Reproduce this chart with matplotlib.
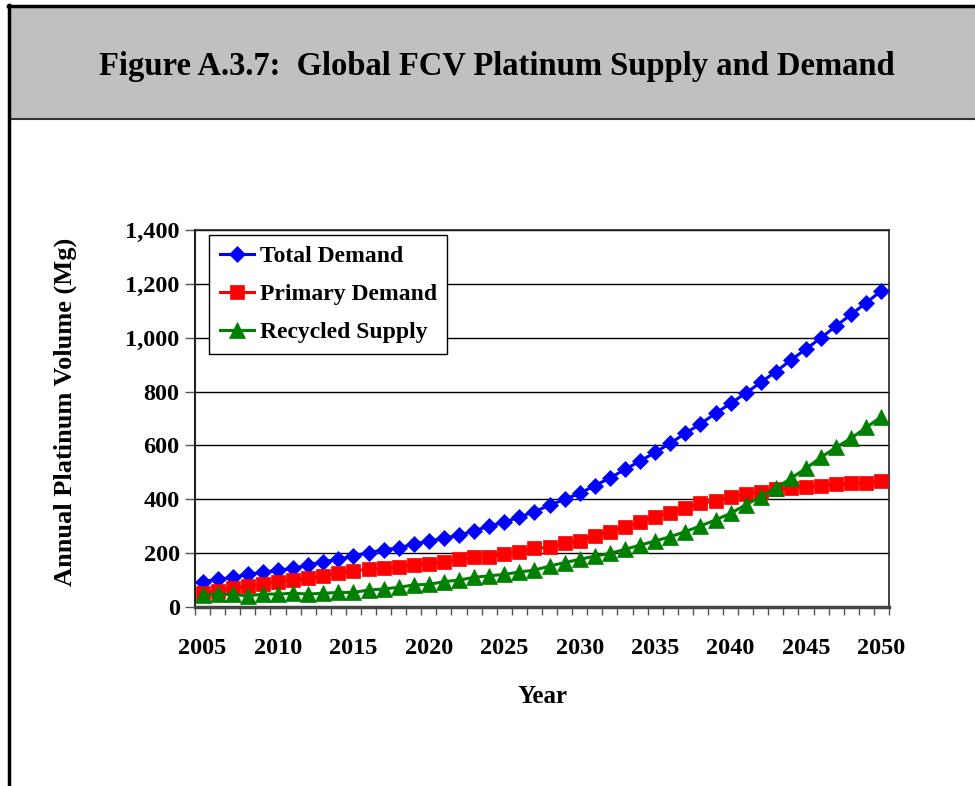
import numpy as np
import matplotlib
matplotlib.use('Agg')
import matplotlib.pyplot as plt
from matplotlib.patches import Rectangle
from matplotlib.lines import Line2D
from matplotlib.ticker import FuncFormatter, FixedLocator

plt.rcParams['font.family'] = ['Liberation Serif', 'DejaVu Serif']
plt.rcParams['font.weight'] = 'bold'

years = list(range(2005, 2051))
total_demand = [94, 103, 110, 121, 129, 137, 143, 156, 168, 177, 189, 202, 212, 220, 233, 246,
                255, 267, 282, 301, 315, 334, 354, 378, 400, 422, 451, 479, 511, 542, 574, 608,
                645, 680, 719, 756, 794, 834, 874, 917, 958, 1000, 1044, 1087, 1130, 1175]
primary_demand = [51, 59, 69, 78, 85, 94, 100, 106, 115, 125, 135, 140, 143, 150, 156, 160,
                  168, 177, 184, 187, 197, 206, 218, 222, 237, 246, 265, 280, 298, 317, 335, 350,
                  369, 385, 394, 410, 420, 428, 437, 441, 447, 451, 456, 459, 462, 468]
recycled_supply = [45, 48, 47, 41, 48, 48, 51, 48, 51, 54, 54, 63, 67, 73, 82, 84,
                   94, 100, 110, 116, 121, 130, 137, 152, 165, 177, 189, 199, 214, 230, 245, 261,
                   280, 301, 323, 348, 379, 410, 441, 478, 515, 556, 593, 627, 667, 707]
series_names = ['Total Demand', 'Primary Demand', 'Recycled Supply']

W, H = 975, 786
fig = plt.figure(figsize=(W / 100, H / 100), dpi=100)

# header box and outer frame
fig.add_artist(Rectangle((10 / W, 1 - 119 / H), (W - 10) / W, 113 / H, transform=fig.transFigure,
                         facecolor='#c0c0c0', edgecolor='none'))
fig.add_artist(Line2D([10 / W, 1], [1 - 119 / H] * 2, transform=fig.transFigure, color='#333333', lw=1.5))
fig.add_artist(Line2D([8 / W, 1], [1 - 6 / H] * 2, transform=fig.transFigure, color='black', lw=2.5))
fig.add_artist(Line2D([8.5 / W] * 2, [0, 1 - 5 / H], transform=fig.transFigure, color='black', lw=2.5))
fig.text(497 / W, 1 - 66 / H, 'Figure A.3.7:  Global FCV Platinum Supply and Demand',
         ha='center', va='center', fontsize=23.5, fontweight='bold')

ax = fig.add_axes([195 / W, 1 - 607 / H, 694 / W, 377 / H])
x = np.arange(len(years))

ax.plot(x, total_demand, color='#0000ff', lw=2.2, marker='D', markersize=8.5,
        markeredgewidth=0.5, label=series_names[0], zorder=3)
ax.plot(x, primary_demand, color='#ff0000', lw=2.2, marker='s', markersize=9.5,
        markeredgewidth=0.5, label=series_names[1], zorder=3)
ax.plot(x, recycled_supply, color='#008000', lw=2.2, marker='^', markersize=11,
        markeredgewidth=0.5, label=series_names[2], zorder=3)

ax.set_xlim(-0.5, len(years) - 0.5)
ax.set_ylim(0, 1400)
ax.set_yticks(range(0, 1401, 200))
ax.yaxis.set_major_formatter(FuncFormatter(lambda v, p: f'{int(v):,}'))
ax.grid(axis='y', color='black', lw=1)
ax.set_axisbelow(True)

ax.xaxis.set_major_locator(FixedLocator(x[::5]))
ax.set_xticklabels([str(y) for y in years[::5]])
ax.xaxis.set_minor_locator(FixedLocator(np.arange(-0.5, len(years), 1.0)))
ax.tick_params(axis='x', which='major', length=0, pad=22, labelsize=17.5)
ax.tick_params(axis='x', which='minor', length=6, width=1, color='#555555', direction='out')
ax.tick_params(axis='y', length=7, width=1, color='#555555', labelsize=17.5, pad=4)
for lab in ax.get_xticklabels() + ax.get_yticklabels():
    lab.set_fontweight('bold')

for side in ['top', 'right']:
    ax.spines[side].set_color('#222222')
    ax.spines[side].set_linewidth(1.2)
ax.spines['left'].set_color('#222222')
ax.spines['left'].set_linewidth(1.5)
ax.spines['bottom'].set_color('#444444')
ax.spines['bottom'].set_linewidth(2.5)

ax.set_xlabel('Year', fontsize=18, fontweight='bold', labelpad=19)
fig.text(65 / W, 1 - 412 / H, 'Annual Platinum Volume (Mg)', rotation=90,
         ha='center', va='center', fontsize=19, fontweight='bold')

leg = ax.legend(loc='upper left', bbox_to_anchor=(0.02, 0.987), borderaxespad=0,
                fancybox=False, framealpha=1, edgecolor='black', fontsize=17,
                handlelength=1.45, handletextpad=0.25, labelspacing=0.7, borderpad=0.45)
leg.get_frame().set_linewidth(1)
for t in leg.get_texts():
    t.set_fontweight('bold')

plt.savefig('out.png', dpi=100)
